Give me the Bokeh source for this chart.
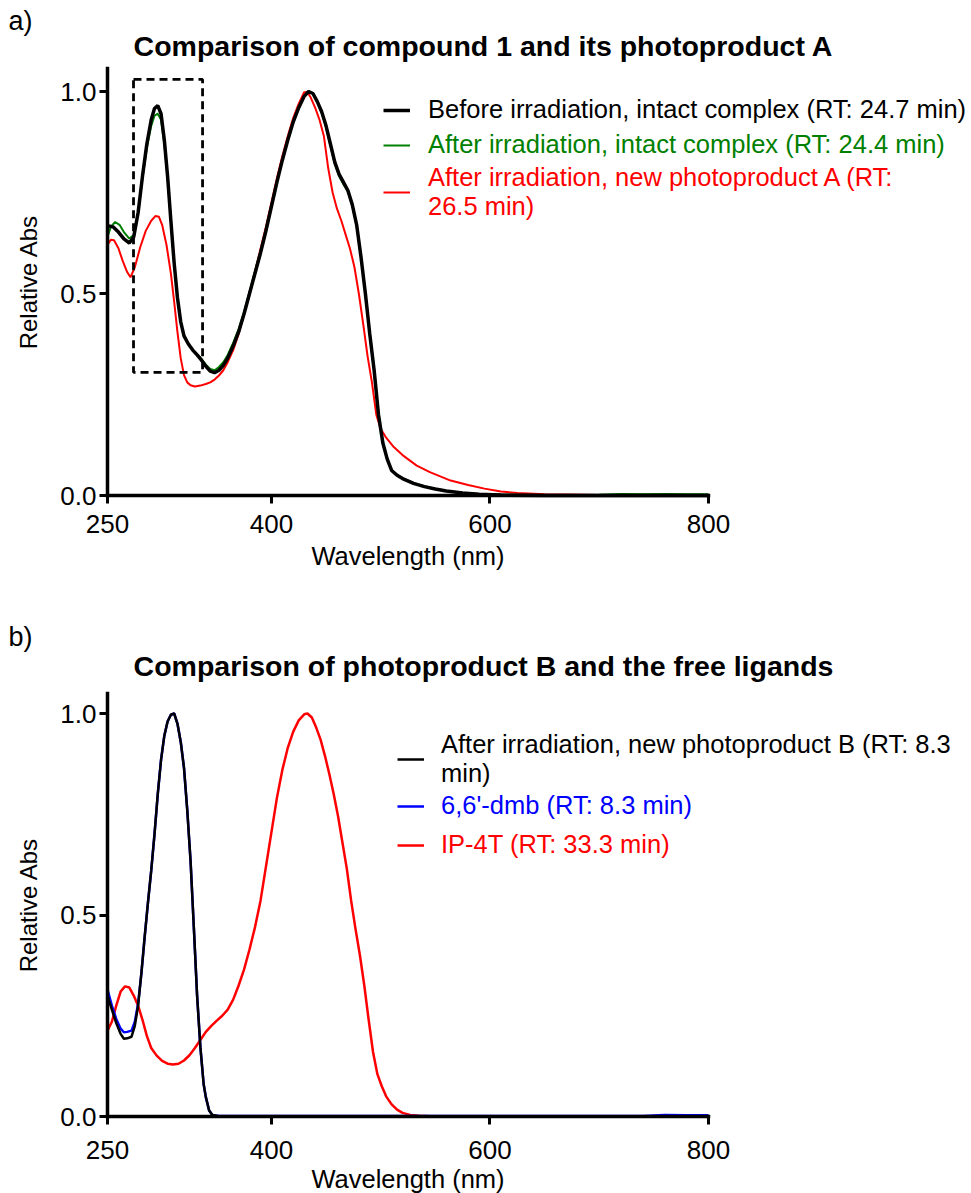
from bokeh.plotting import figure
from bokeh.models import (Legend, LegendItem, Label, BoxAnnotation, FixedTicker,
                          PrintfTickFormatter, Range1d)
from bokeh.layouts import column
from bokeh.embed import file_html
from bokeh.resources import INLINE

FONT = "Liberation Sans"

# ---------------- Panel a data ----------------
a_before_wl = [250, 255, 260, 265, 270, 274, 278, 282, 286, 290, 293, 296, 299, 302, 305, 308, 311, 314, 317, 320,
               324, 328, 332, 336, 340, 344, 348, 352, 356, 360, 365, 370, 375, 380, 385, 390, 395, 400, 405, 410,
               415, 420, 425, 430, 434, 438, 442, 446, 450, 454, 458, 462, 466, 470, 474, 478, 482, 486, 490, 494,
               498, 502, 506, 510, 515, 520, 530, 540, 550, 560, 575, 590, 610, 650, 800]
a_before_val = [0.668, 0.665, 0.652, 0.635, 0.625, 0.640, 0.700, 0.790, 0.870, 0.930, 0.958, 0.965, 0.945, 0.880,
                0.790, 0.680, 0.575, 0.490, 0.430, 0.395, 0.375, 0.360, 0.348, 0.335, 0.320, 0.308, 0.304, 0.310,
                0.322, 0.340, 0.370, 0.405, 0.450, 0.500, 0.550, 0.600, 0.655, 0.715, 0.775, 0.830, 0.880, 0.925,
                0.960, 0.988, 1.000, 0.995, 0.975, 0.950, 0.915, 0.870, 0.825, 0.795, 0.775, 0.755, 0.720, 0.670,
                0.590, 0.500, 0.400, 0.310, 0.200, 0.130, 0.090, 0.062, 0.050, 0.042, 0.030, 0.022, 0.016, 0.011,
                0.006, 0.003, 0.001, 0.0, 0.0]

a_after_wl = [250, 253, 257, 261, 265, 270, 274, 278, 282, 286, 290, 293, 296, 299, 302, 305, 308, 311, 314, 317,
              320, 324, 328, 332, 336, 340, 344, 348, 352, 356, 360, 365, 370, 375, 380, 385, 390, 395, 400, 405,
              410, 415, 420, 425, 430, 434, 438, 442, 446, 450, 454, 458, 462, 466, 470, 474, 478, 482, 486, 490,
              494, 498, 502, 506, 510, 515, 520, 530, 540, 550, 560, 575, 590, 610, 650, 700, 720, 740, 760, 780, 800]
a_after_val = [0.640, 0.665, 0.677, 0.670, 0.652, 0.636, 0.645, 0.700, 0.785, 0.860, 0.915, 0.940, 0.945, 0.930,
               0.870, 0.785, 0.680, 0.575, 0.490, 0.430, 0.395, 0.375, 0.360, 0.350, 0.338, 0.324, 0.313, 0.310,
               0.318, 0.330, 0.348, 0.378, 0.412, 0.455, 0.505, 0.555, 0.605, 0.660, 0.720, 0.778, 0.832, 0.882,
               0.926, 0.961, 0.988, 1.000, 0.995, 0.975, 0.948, 0.912, 0.866, 0.820, 0.790, 0.770, 0.752, 0.718,
               0.668, 0.590, 0.500, 0.400, 0.310, 0.200, 0.130, 0.090, 0.063, 0.051, 0.043, 0.031, 0.023, 0.017,
               0.012, 0.007, 0.004, 0.002, 0.001, 0.002, 0.004, 0.003, 0.004, 0.003, 0.003]

a_prodA_wl = [250, 253, 256, 260, 264, 268, 271, 275, 280, 285, 290, 294, 297, 300, 304, 308, 311, 314, 317, 320,
              323, 326, 330, 335, 340, 344, 348, 352, 356, 360, 365, 370, 375, 380, 385, 390, 395, 400, 405, 410,
              415, 420, 425, 430, 433, 436, 440, 444, 448, 452, 456, 460, 464, 468, 472, 476, 480, 484, 488, 492,
              496, 500, 505, 512, 520, 533, 545, 564, 580, 595, 610, 625, 650, 700, 800]
a_prodA_val = [0.620, 0.633, 0.632, 0.612, 0.580, 0.553, 0.540, 0.565, 0.615, 0.655, 0.680, 0.692, 0.690, 0.670,
               0.620, 0.550, 0.480, 0.405, 0.340, 0.298, 0.280, 0.273, 0.270, 0.272, 0.276, 0.280, 0.287, 0.297,
               0.310, 0.330, 0.360, 0.400, 0.450, 0.500, 0.555, 0.610, 0.665, 0.725, 0.785, 0.840, 0.890, 0.935,
               0.970, 0.998, 0.998, 0.985, 0.960, 0.930, 0.890, 0.810, 0.750, 0.710, 0.680, 0.645, 0.610, 0.565,
               0.500, 0.425, 0.345, 0.280, 0.200, 0.165, 0.143, 0.120, 0.100, 0.074, 0.058, 0.037, 0.026, 0.017,
               0.010, 0.006, 0.003, 0.001, 0.0]

# ---------------- Panel b data ----------------
b_prodB_wl = [250, 254, 258, 262, 265, 268, 272, 275, 278, 281, 284, 287, 290, 293, 296, 299, 302, 305, 308, 311,
              314, 317, 320, 323, 326, 329, 332, 335, 338, 340, 343, 346, 352, 800]
b_prodB_val = [0.300, 0.265, 0.232, 0.205, 0.193, 0.194, 0.198, 0.225, 0.275, 0.355, 0.445, 0.530, 0.610, 0.700,
               0.800, 0.885, 0.945, 0.980, 0.997, 1.000, 0.975, 0.930, 0.865, 0.760, 0.635, 0.470, 0.300, 0.172,
               0.080, 0.048, 0.015, 0.004, 0.0, 0.0]

b_dmb_wl = [250, 254, 258, 262, 265, 268, 272, 275, 278, 281, 284, 287, 290, 293, 296, 299, 302, 305, 308, 311,
            314, 317, 320, 323, 326, 329, 332, 335, 338, 340, 343, 346, 352, 740, 760, 780, 800]
b_dmb_val = [0.315, 0.275, 0.242, 0.218, 0.209, 0.210, 0.213, 0.235, 0.280, 0.355, 0.445, 0.530, 0.610, 0.700,
             0.800, 0.885, 0.945, 0.980, 0.997, 1.000, 0.975, 0.930, 0.865, 0.760, 0.635, 0.470, 0.300, 0.172,
             0.080, 0.048, 0.015, 0.004, 0.001, 0.001, 0.004, 0.003, 0.003]

b_ip4t_wl = [250, 254, 258, 262, 266, 270, 274, 278, 282, 286, 290, 295, 300, 305, 310, 315, 320, 325, 330, 335,
             340, 345, 350, 355, 360, 365, 370, 375, 380, 385, 390, 395, 400, 405, 410, 415, 420, 425, 430, 433,
             437, 441, 445, 449, 453, 457, 461, 465, 469, 473, 477, 481, 485, 489, 493, 497, 501, 505, 510, 515,
             520, 527, 535, 550, 800]
b_ip4t_val = [0.213, 0.235, 0.275, 0.310, 0.323, 0.320, 0.300, 0.275, 0.240, 0.200, 0.170, 0.151, 0.138, 0.131,
              0.129, 0.131, 0.139, 0.152, 0.170, 0.190, 0.210, 0.225, 0.238, 0.250, 0.265, 0.290, 0.325, 0.365,
              0.415, 0.470, 0.535, 0.620, 0.705, 0.790, 0.860, 0.915, 0.955, 0.983, 0.998, 1.000, 0.990, 0.965,
              0.935, 0.895, 0.850, 0.800, 0.745, 0.680, 0.615, 0.535, 0.465, 0.400, 0.325, 0.240, 0.160, 0.105,
              0.075, 0.050, 0.030, 0.017, 0.009, 0.004, 0.002, 0.0, 0.0]

x_ticks = [250, 400, 600, 800]
y_ticks = [0.0, 0.5, 1.0]

# highlighted region (panel a)
box_wl = (273.8, 337.0)
box_abs = (0.305, 1.03)

W = 971
AX_LEFT, AX_RIGHT = 107, 708          # pixel span of 250..800 nm
PX_PER_NM = (AX_RIGHT - AX_LEFT) / 550.0


def make_fig(height, y0_px, y1_px, y_top, tick_standoff, label_standoff):
    """y0_px: pixel row (from top of figure) of value 0; y1_px: pixel row of value 1."""
    ppu = y0_px - y1_px
    x_start = 250 - AX_LEFT / PX_PER_NM
    x_end = 800 + (W - AX_RIGHT) / PX_PER_NM
    y_start = -(height - y0_px) / ppu
    y_end = y0_px / ppu
    p = figure(width=W, height=height, output_backend="svg", toolbar_location=None,
               x_range=Range1d(x_start, x_end), y_range=Range1d(y_start, y_end),
               min_border=0, min_border_left=0, min_border_right=0, min_border_top=0, min_border_bottom=0)
    p.outline_line_color = None
    p.xgrid.visible = False
    p.ygrid.visible = False
    p.background_fill_color = "white"
    p.border_fill_color = "white"
    p.xaxis.fixed_location = 0
    p.yaxis.fixed_location = 250
    p.xaxis.bounds = (250, 800)
    p.yaxis.bounds = (0, y_top)
    p.xaxis.ticker = FixedTicker(ticks=x_ticks)
    p.yaxis.ticker = FixedTicker(ticks=y_ticks)
    p.yaxis.formatter = PrintfTickFormatter(format="%.1f")
    for ax in (p.xaxis[0], p.yaxis[0]):
        ax.axis_line_width = 3.5
        ax.axis_line_color = "black"
        ax.axis_line_cap = "square"
        ax.major_tick_line_width = 3
        ax.major_tick_line_color = "black"
        ax.major_tick_in = 0
        ax.major_tick_out = 8
        ax.minor_tick_line_color = None
        ax.major_label_text_font = FONT
        ax.major_label_text_font_size = "26px"
        ax.major_label_text_color = "black"
        ax.axis_label_text_font = FONT
        ax.axis_label_text_font_size = "25.5px"
        ax.axis_label_text_font_style = "normal"
        ax.axis_label_text_color = "black"
    p.yaxis.axis_label_text_font_size = "24px"
    p.xaxis.axis_label = "Wavelength (nm)"
    p.yaxis.axis_label = "Relative Abs"
    p.xaxis.major_label_standoff = tick_standoff
    p.xaxis.axis_label_standoff = label_standoff
    p.yaxis.major_label_standoff = 3
    p.yaxis.axis_label_standoff = 15
    return p


def add_legend(p, renderer, text, color, loc, standoff):
    leg = Legend(items=[LegendItem(label=text, renderers=[renderer])], location=loc,
                 label_text_color=color, label_text_font=FONT, label_text_font_size="25.5px",
                 glyph_width=27, glyph_height=20, label_standoff=standoff, padding=0, margin=0,
                 border_line_alpha=0, background_fill_alpha=0, label_height=20)
    p.add_layout(leg, "center")


def add_text(p, text, x, y, size, bold=False, align="center"):
    p.add_layout(Label(x=x, y=y, x_units="screen", y_units="screen", text=text,
                       text_font=FONT, text_font_size=size,
                       text_font_style="bold" if bold else "normal",
                       text_align=align, text_baseline="middle", text_color="black"))


# ---------------- Panel a ----------------
H1 = 595
p1 = make_fig(H1, 495, 91, 1.057, 11, 6)
r_a_red = p1.line(a_prodA_wl, a_prodA_val, line_color="#ff0000", line_width=2)
r_a_green = p1.line(a_after_wl, a_after_val, line_color="#008000", line_width=2)
r_a_black = p1.line(a_before_wl, a_before_val, line_color="black", line_width=3.5)
p1.add_layout(BoxAnnotation(left=box_wl[0], right=box_wl[1], bottom=box_abs[0], top=box_abs[1],
                            fill_alpha=0, line_alpha=1, line_color="black", line_width=2.8, line_dash="8 5"))
add_legend(p1, r_a_black, "Before irradiation, intact complex (RT: 24.7 min)", "black", (383, H1 - 124), 18)
add_legend(p1, r_a_green, "After irradiation, intact complex (RT: 24.4 min)", "#008000", (383, H1 - 159), 18)
add_legend(p1, r_a_red, "After irradiation, new photoproduct A (RT:\n26.5 min)", "#ff0000", (383, H1 - 221), 18)
add_text(p1, "a)", 8, H1 - 20, "27px", align="left")
add_text(p1, "Comparison of compound 1 and its photoproduct A", 483, H1 - 45, "28.5px", bold=True)

# ---------------- Panel b ----------------
H2 = 598
p2 = make_fig(H2, 521, 118, 1.05, 16, 3)
r_b_red = p2.line(b_ip4t_wl, b_ip4t_val, line_color="#ff0000", line_width=2.5)
r_b_blue = p2.line(b_dmb_wl, b_dmb_val, line_color="#0000ff", line_width=2.5)
r_b_black = p2.line(b_prodB_wl, b_prodB_val, line_color="black", line_width=2.5)
add_legend(p2, r_b_black, "After irradiation, new photoproduct B (RT: 8.3\nmin)", "black", (397, 405), 17)
add_legend(p2, r_b_blue, "6,6'-dmb (RT: 8.3 min)", "#0000ff", (397, 373), 17)
add_legend(p2, r_b_red, "IP-4T (RT: 33.3 min)", "#ff0000", (397, 334), 17)
add_text(p2, "b)", 8, H2 - 41, "27px", align="left")
add_text(p2, "Comparison of photoproduct B and the free ligands", 483, H2 - 70, "28.5px", bold=True)

layout = column(p1, p2, spacing=0)
open("out.html", "w").write(file_html(layout, INLINE))
